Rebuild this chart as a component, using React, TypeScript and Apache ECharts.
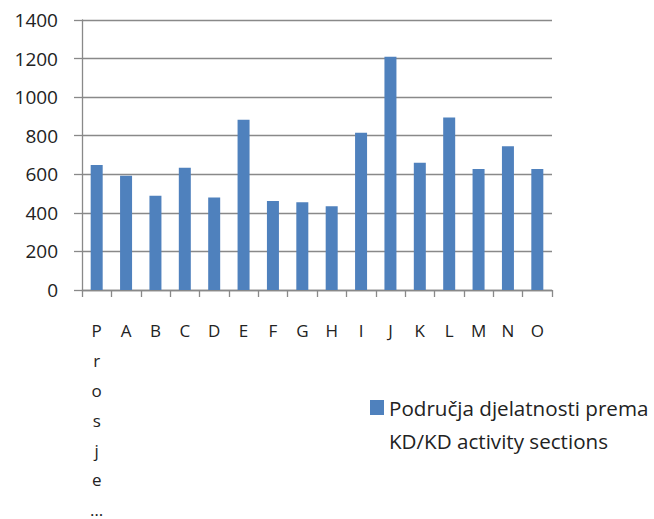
import React, { useEffect, useRef } from "react";
import * as echarts from "echarts";

const categories = ["Prosjek", "A", "B", "C", "D", "E", "F", "G", "H", "I", "J", "K", "L", "M", "N", "O"];
const values = [648, 593, 489, 634, 479, 883, 461, 455, 434, 816, 1210, 660, 895, 627, 746, 627];
const seriesName = "Područja djelatnosti prema KD/KD activity sections";
const legendLines = ["Područja djelatnosti prema", "KD/KD activity sections"];

const FONT = "'Open Sans', sans-serif";
const GRAY = "#898989";

export default function App() {
  const ref = useRef<HTMLDivElement>(null);
  useEffect(() => {
    if (!ref.current) return;
    const chart = echarts.init(ref.current, undefined, { renderer: "svg" });
    chart.setOption({
      animation: false,
      grid: { left: 82, top: 20, right: 102, bottom: 229, containLabel: false, outerBoundsMode: "none" },
      legend: {
        show: true,
        left: 370,
        top: 358,
        padding: 0,
        orient: "vertical",
        icon: "rect",
        itemWidth: 14,
        itemHeight: 15,
        itemGap: 0,
        formatter: () => "\n" + legendLines.join("\n"),
        textStyle: {
          fontFamily: FONT,
          fontSize: 20.6,
          color: "#222",
          lineHeight: 33,
        },
      },
      xAxis: {
        type: "category",
        data: categories,
        axisLine: { lineStyle: { color: GRAY, width: 1.3 } },
        axisTick: { show: true, length: 7, alignWithLabel: false, lineStyle: { color: GRAY, width: 1.3 } },
        axisLabel: {
          interval: 0,
          margin: 26,
          fontFamily: FONT,
          fontSize: 17,
          color: "#222",
          lineHeight: 29.8,
          formatter: (v: string) => {
            if (v.length <= 1) return v;
            return v.slice(0, 6).split("").join("\n") + "\n…";
          },
        },
      },
      yAxis: {
        type: "value",
        min: 0,
        max: 1400,
        interval: 200,
        axisLine: { show: true, lineStyle: { color: GRAY, width: 1.3 } },
        axisTick: { show: true, length: 8, lineStyle: { color: GRAY, width: 1.3 } },
        splitLine: { show: true, lineStyle: { color: GRAY, width: 1.3 } },
        axisLabel: {
          margin: 24,
          fontFamily: FONT,
          fontSize: 19,
          color: "#222",
          formatter: (v: number) => String(v),
        },
      },
      series: [
        {
          name: seriesName,
          type: "bar",
          data: values,
          barWidth: 12,
          itemStyle: { color: "#4F81BD" },
        },
      ],
    });
    return () => chart.dispose();
  }, []);
  return <div ref={ref} style={{ width: 654, height: 519, position: "absolute", left: 0, top: 0 }} />;
}
